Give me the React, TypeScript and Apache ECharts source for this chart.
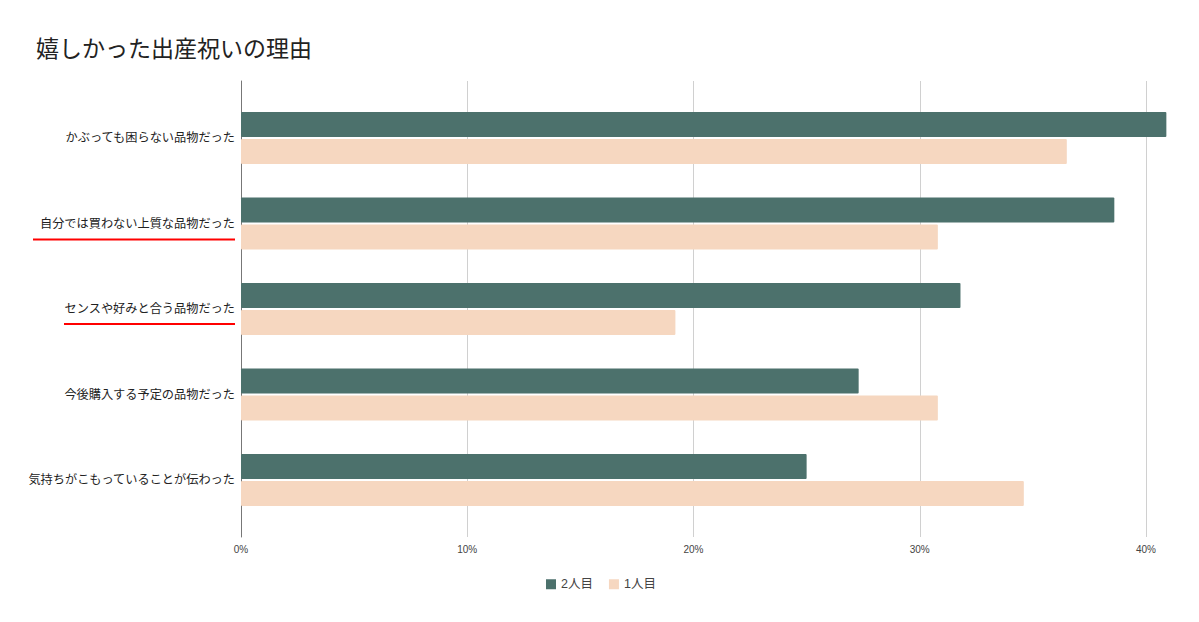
import React, { useEffect, useRef } from "react";
import * as echarts from "echarts";

const title = "嬉しかった出産祝いの理由";
const categories = [
  "かぶっても困らない品物だった",
  "自分では買わない上質な品物だった",
  "センスや好みと合う品物だった",
  "今後購入する予定の品物だった",
  "気持ちがこもっていることが伝わった",
];
const seriesNames = ["2人目", "1人目"];
const second = [0.409, 0.386, 0.318, 0.273, 0.25];
const first = [0.365, 0.308, 0.192, 0.308, 0.346];
const tickValues = [0, 0.1, 0.2, 0.3, 0.4];
const colors = ["#4c716c", "#f6d7c0"];

const FONT = "'Liberation Sans', 'Noto Sans CJK JP', sans-serif";

export default function App() {
  const ref = useRef<HTMLDivElement>(null);
  useEffect(() => {
    document.body.style.margin = "0";
    const chart = echarts.init(ref.current!, null, { renderer: "svg" });
    const left = 241;
    const pxPerUnit = 2262.5;
    const axisMax = 0.5;
    const width = axisMax * pxPerUnit;
    const lastTick = tickValues[tickValues.length - 1];
    chart.setOption({
      animation: false,
      backgroundColor: "#fff",
      textStyle: { fontFamily: FONT },
      title: {
        text: title,
        left: 31,
        top: 32,
        textStyle: { fontSize: 23, fontWeight: "normal", color: "#222", fontFamily: FONT },
      },
      legend: {
        data: seriesNames,
        left: 541,
        top: 573,
        icon: "rect",
        itemWidth: 10,
        itemHeight: 10,
        itemGap: 16,
        textStyle: { fontSize: 12.5, color: "#444", fontFamily: FONT },
      },
      grid: [
        { left, width, top: 81, bottom: 85, containLabel: false },
        { left, width, top: 95.25, bottom: 99.25, containLabel: false },
      ],
      xAxis: [
        {
          gridIndex: 0,
          type: "value",
          min: 0,
          max: axisMax,
          interval: 0.1,
          axisLine: { show: false },
          axisTick: { show: false },
          splitLine: { show: true, lineStyle: { color: "#d0d0d0", width: 1 } },
          axisLabel: {
            fontSize: 10,
            color: "#444",
            margin: 7,
            showMaxLabel: false,
            formatter: (v: number) =>
              v <= lastTick + 1e-9 ? `${Math.round(v * 100)}%` : "",
          },
        },
        {
          gridIndex: 1,
          type: "value",
          min: 0,
          max: axisMax,
          show: false,
        },
      ],
      yAxis: [
        {
          gridIndex: 0,
          type: "value",
          axisLine: { show: true, lineStyle: { color: "#777", width: 1 } },
          axisTick: { show: false },
          axisLabel: { show: false },
          splitLine: { show: false },
        },
        {
          gridIndex: 1,
          type: "category",
          data: categories,
          inverse: true,
          axisLine: { show: false },
          axisTick: { show: false },
          axisLabel: { fontSize: 12.2, color: "#222", margin: 6, fontFamily: FONT },
        },
      ],
      series: [
        {
          name: seriesNames[0],
          type: "bar",
          xAxisIndex: 1,
          yAxisIndex: 1,
          data: second,
          barWidth: 25,
          barGap: "8%",
          itemStyle: { color: colors[0], borderRadius: 1 },
        },
        {
          name: seriesNames[1],
          type: "bar",
          xAxisIndex: 1,
          yAxisIndex: 1,
          data: first,
          barWidth: 25,
          barGap: "8%",
          itemStyle: { color: colors[1], borderRadius: 1 },
        },
      ],
      graphic: [
        {
          type: "line",
          shape: { x1: 33, y1: 239.5, x2: 235, y2: 239.5 },
          style: { stroke: "#ff0000", lineWidth: 2 },
        },
        {
          type: "line",
          shape: { x1: 64, y1: 324, x2: 235, y2: 324 },
          style: { stroke: "#ff0000", lineWidth: 2 },
        },
      ],
    });
    return () => chart.dispose();
  }, []);
  return (
    <div style={{ width: 1199, height: 622, overflow: "hidden", position: "relative" }}>
      <div ref={ref} style={{ width: 1420, height: 622 }} />
    </div>
  );
}
